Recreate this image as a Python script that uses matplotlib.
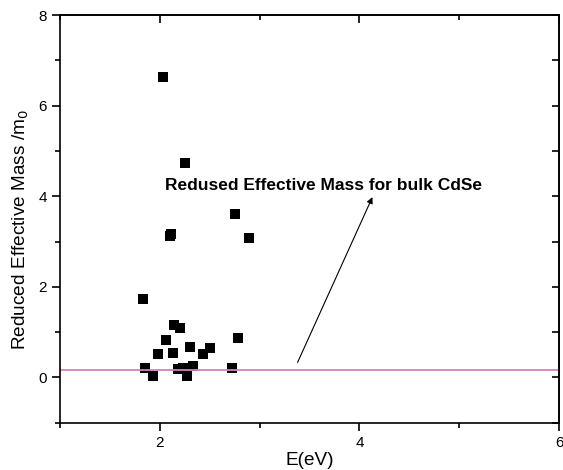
import matplotlib
matplotlib.use("Agg")
import matplotlib.pyplot as plt
from matplotlib.ticker import MultipleLocator

plt.rcParams['font.family'] = ['Liberation Sans', 'DejaVu Sans']

energy = [1.83, 2.14, 2.20, 2.06, 1.98, 2.13, 2.30, 2.43, 2.50, 2.78,
          1.85, 1.93, 2.18, 2.23, 2.33, 2.27, 2.72,
          2.03, 2.25, 2.10, 2.11, 2.75, 2.89]
mass = [1.74, 1.15, 1.10, 0.83, 0.52, 0.54, 0.68, 0.52, 0.65, 0.86,
        0.21, 0.03, 0.19, 0.21, 0.25, 0.03, 0.21,
        6.64, 4.74, 3.12, 3.17, 3.60, 3.07]
bulk_mass = 0.16
annot_text = "Redused Effective Mass for bulk CdSe"
arrow_tail = (3.38, 0.33)
arrow_head = (4.13, 3.98)
text_pos = (2.05, 4.24)

fig = plt.figure(figsize=(5.63, 4.70), dpi=100)
ax = fig.add_axes([0.1066, 0.1006, 0.8864, 0.8674])

ax.plot(energy, mass, linestyle='none', marker='s', markersize=6.5,
        color='black', markeredgewidth=0)
ax.axhline(bulk_mass, color='#d77fb9', linewidth=1.3)

ax.annotate("", xy=arrow_head, xytext=arrow_tail,
            arrowprops=dict(arrowstyle='-|>', color='black', lw=0.8,
                            mutation_scale=9, shrinkA=0, shrinkB=0))
ax.text(text_pos[0], text_pos[1], annot_text, fontsize=12.5, fontweight='bold',
        va='center', ha='left')

ax.set_xlim(1, 6)
ax.set_ylim(-1, 8)
ax.xaxis.set_major_locator(MultipleLocator(2))
ax.xaxis.set_minor_locator(MultipleLocator(1))
ax.yaxis.set_major_locator(MultipleLocator(2))
ax.yaxis.set_minor_locator(MultipleLocator(1))

ax.tick_params(which='both', direction='out', labelsize=11, width=1.2,
               top=False, right=False)
ax.tick_params(which='major', length=6)
ax.tick_params(which='minor', length=3.5)

# mirrored inward ticks on top and right
axt = ax.secondary_xaxis('top')
axt.xaxis.set_major_locator(MultipleLocator(2))
axt.xaxis.set_minor_locator(MultipleLocator(1))
axt.tick_params(which='both', direction='in', labeltop=False, width=1.2)
axt.tick_params(which='major', length=6)
axt.tick_params(which='minor', length=3.5)
axr = ax.secondary_yaxis('right')
axr.yaxis.set_major_locator(MultipleLocator(2))
axr.yaxis.set_minor_locator(MultipleLocator(1))
axr.tick_params(which='both', direction='in', labelright=False, width=1.2)
axr.tick_params(which='major', length=5)
axr.tick_params(which='minor', length=5)

for s in ax.spines.values():
    s.set_linewidth(1.2)
axt.spines['top'].set_linewidth(1.2)
axr.spines['right'].set_linewidth(1.2)

ax.set_xlabel("E(eV)", fontsize=13.7)
ax.set_ylabel("Reduced Effective Mass /m$_0$", fontsize=13.7)
ax.xaxis.set_label_coords(0.5, -0.071)
ax.yaxis.set_label_coords(-0.058, 0.475)

fig.savefig("out.png", dpi=100)
